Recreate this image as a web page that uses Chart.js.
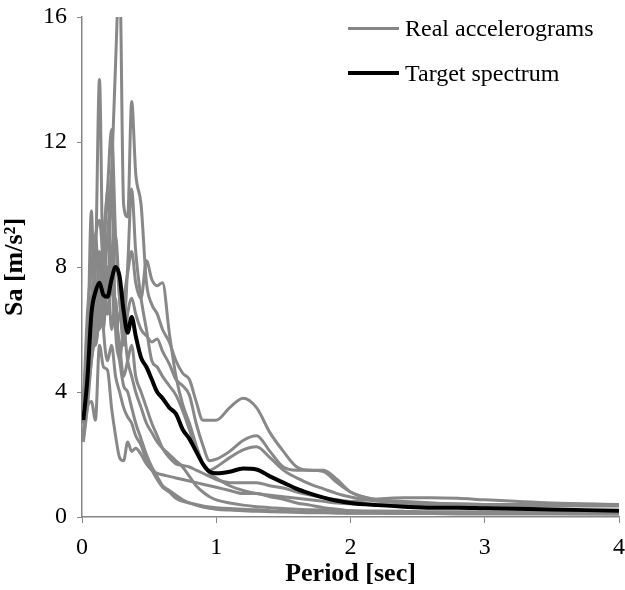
<!DOCTYPE html>
<html>
<head>
<meta charset="utf-8">
<script src="https://cdn.jsdelivr.net/npm/chart.js@4/dist/chart.umd.min.js"></script>
<style>
  html, body { margin: 0; padding: 0; background: #fff; }
  #wrap { position: relative; width: 625px; height: 590px; }
  .legend-item { position: absolute; left: 348px; font-family: "Liberation Serif", "Times New Roman", serif; font-size: 24px; color: #000; line-height: 24px; white-space: nowrap; }
  .legend-item .swatch { display: inline-block; width: 51px; vertical-align: middle; margin-right: 6px; position: relative; top: -2px; }
</style>
</head>
<body>
<div id="wrap">
  <canvas id="chart" width="625" height="590"></canvas>
  <div class="legend-item" style="top:16px"><span class="swatch" style="border-top:3px solid #868686"></span>Real accelerograms</div>
  <div class="legend-item" style="top:61px"><span class="swatch" style="border-top:4px solid #000"></span>Target spectrum</div>
</div>
<script>
// periods [sec] shared by every spectrum
const periods = [0.01, 0.04, 0.07, 0.10, 0.13, 0.16, 0.19, 0.22, 0.25, 0.28, 0.31, 0.34, 0.37, 0.40, 0.44, 0.48,
  0.52, 0.56, 0.60, 0.65, 0.70, 0.75, 0.80, 0.85, 0.90, 0.95, 1.0, 1.1, 1.2, 1.3, 1.4, 1.5, 1.6, 1.7, 1.8, 1.9,
  2.0, 2.2, 2.4, 2.6, 2.8, 3.0, 3.5, 4.0];

// target spectrum Sa [m/s2]
const target = [3.1, 4.4, 6.5, 7.2, 7.5, 7.1, 7.05, 7.6, 8.0, 7.7, 6.6, 5.9, 6.4, 5.8, 5.1, 4.8,
  4.4, 4.0, 3.8, 3.5, 3.3, 2.8, 2.5, 2.1, 1.7, 1.45, 1.4, 1.45, 1.55, 1.52, 1.3, 1.1, 0.9, 0.75, 0.62, 0.52,
  0.45, 0.38, 0.33, 0.3, 0.3, 0.28, 0.24, 0.2];

// real accelerogram spectra Sa [m/s2]
const rec1 = [2.6, 3.8, 5.0, 6.0, 6.5, 7.5, 9.0, 11.0, 14.5, 17.5, 10.0, 9.6, 13.3, 11.0, 10.0, 7.5,
  6.8, 6.5, 6.0, 5.6, 5.0, 4.6, 4.4, 3.7, 3.1, 3.1, 3.1, 3.5, 3.8, 3.5, 2.7, 2.1, 1.6, 1.5, 1.5, 1.2,
  0.8, 0.55, 0.5, 0.45, 0.42, 0.4, 0.38, 0.37];
const rec2 = [3.8, 5.5, 7.0, 8.0, 14.0, 7.0, 6.5, 8.0, 9.0, 7.0, 5.5, 6.5, 7.0, 6.5, 6.0, 5.8,
  5.6, 5.7, 5.3, 4.9, 4.4, 4.2, 3.9, 3.0, 2.3, 1.8, 1.85, 2.1, 2.45, 2.6, 2.1, 1.6, 1.5, 1.5, 1.45, 1.1,
  0.8, 0.55, 0.48, 0.44, 0.42, 0.4, 0.39, 0.38];
const rec3 = [3.2, 4.5, 6.0, 5.5, 7.0, 9.0, 10.5, 12.4, 9.0, 7.0, 6.0, 8.0, 10.5, 8.5, 7.0, 6.0,
  5.0, 4.8, 4.5, 4.2, 3.9, 3.4, 2.8, 2.2, 1.7, 1.5, 1.6, 1.9, 2.15, 2.25, 1.9, 1.5, 1.25, 1.05, 0.9, 0.75,
  0.64, 0.5, 0.45, 0.42, 0.4, 0.4, 0.38, 0.37];
const rec4 = [3.0, 5.0, 9.8, 5.5, 6.5, 8.0, 10.4, 8.0, 6.5, 5.5, 4.5, 5.0, 5.5, 4.5, 4.0, 3.5,
  3.0, 2.6, 2.2, 1.9, 1.7, 1.65, 1.6, 1.5, 1.4, 1.3, 1.2, 1.1, 1.1, 1.1, 1.0, 0.93, 0.8, 0.7, 0.62, 0.55,
  0.5, 0.58, 0.62, 0.62, 0.6, 0.55, 0.45, 0.4];
const rec5 = [2.5, 3.5, 3.7, 3.1, 5.5, 4.8, 4.7, 3.5, 2.6, 1.9, 1.8, 2.4, 2.1, 2.2, 2.0, 1.7,
  1.5, 1.4, 1.35, 1.3, 1.25, 1.2, 1.15, 1.1, 1.05, 1.0, 0.95, 0.85, 0.75, 0.75, 0.65, 0.57, 0.45, 0.38, 0.3, 0.25,
  0.2, 0.15, 0.13, 0.12, 0.12, 0.12, 0.11, 0.1];
const rec6 = [2.4, 3.5, 5.0, 6.0, 8.5, 6.0, 5.0, 5.5, 4.5, 4.0, 3.5, 3.2, 3.0, 2.6, 2.3, 1.8,
  1.5, 1.2, 0.95, 0.8, 0.6, 0.5, 0.45, 0.4, 0.35, 0.32, 0.3, 0.27, 0.25, 0.23, 0.2, 0.18, 0.16, 0.15, 0.14, 0.13,
  0.12, 0.12, 0.11, 0.11, 0.1, 0.1, 0.1, 0.1];
const rec7 = [2.7, 4.0, 6.0, 7.5, 6.0, 9.0, 7.0, 10.9, 6.0, 5.0, 4.2, 4.0, 3.5, 3.0, 2.5, 2.0,
  1.6, 1.3, 1.0, 0.85, 0.7, 0.55, 0.45, 0.38, 0.32, 0.28, 0.25, 0.22, 0.2, 0.18, 0.17, 0.16, 0.15, 0.14, 0.14, 0.13,
  0.13, 0.13, 0.13, 0.13, 0.13, 0.13, 0.13, 0.13];
const rec8 = [3.5, 6.5, 8.0, 9.0, 9.5, 8.0, 6.5, 7.5, 6.0, 6.5, 7.0, 7.8, 8.5, 7.5, 7.0, 8.2,
  7.6, 7.4, 7.5, 5.9, 4.5, 3.6, 3.0, 2.3, 1.7, 1.4, 1.25, 1.0, 0.85, 0.75, 0.7, 0.65, 0.6, 0.55, 0.5, 0.45,
  0.42, 0.4, 0.38, 0.38, 0.37, 0.37, 0.36, 0.35];
const rec9 = [3.0, 4.2, 6.5, 9.0, 7.0, 6.0, 8.0, 6.0, 7.0, 5.0, 6.0, 5.0, 4.5, 4.0, 3.5, 3.0,
  2.7, 2.4, 2.2, 2.0, 1.8, 1.6, 1.3, 1.0, 0.8, 0.65, 0.55, 0.45, 0.38, 0.33, 0.3, 0.27, 0.25, 0.23, 0.22, 0.21,
  0.2, 0.19, 0.18, 0.17, 0.17, 0.16, 0.15, 0.15];

const records = [rec1, rec2, rec3, rec4, rec5, rec6, rec7, rec8, rec9];

const GRAY = "#888888";
const AXIS = "#868686";
const FONT = "'Liberation Serif', 'Times New Roman', serif";

const toPoints = (values) => values.map((v, i) => ({ x: periods[i], y: v }));

document.addEventListener("DOMContentLoaded", () => {
  const datasets = [
    {
      label: "Target spectrum",
      data: toPoints(target),
      borderColor: "#000",
      borderWidth: 4,
    },
    ...records.map((rec, i) => ({
      label: "Real accelerograms " + (i + 1),
      data: toPoints(rec),
      borderColor: GRAY,
      borderWidth: 3,
    })),
  ];

  new Chart(document.getElementById("chart"), {
    type: "line",
    data: { datasets },
    options: {
      responsive: false,
      animation: false,
      layout: { padding: { top: 17, right: 6, left: 0, bottom: 0 } },
      elements: {
        point: { radius: 0 },
        line: { tension: 0.4, cubicInterpolationMode: "monotone", fill: false },
      },
      plugins: {
        legend: { display: false },
        tooltip: { enabled: false },
      },
      scales: {
        x: {
          type: "linear",
          min: 0,
          max: 4,
          ticks: { stepSize: 1, color: "#000", font: { family: FONT, size: 24 }, padding: 10, maxRotation: 0 },
          grid: { drawOnChartArea: false, drawTicks: true, tickLength: 6, color: AXIS },
          border: { color: AXIS, width: 1.5 },
          title: { display: true, text: "Period [sec]", color: "#000", font: { family: FONT, size: 26, weight: "bold" }, padding: 0 },
          afterFit: (scale) => {
            scale.height = 73;
            scale.paddingLeft = 0;
            scale.paddingRight = 0;
          },
        },
        y: {
          min: 0,
          max: 16,
          ticks: { stepSize: 4, color: "#000", font: { family: FONT, size: 24 }, padding: 10 },
          grid: { drawOnChartArea: false, drawTicks: true, tickLength: 5, color: AXIS },
          border: { color: AXIS, width: 1.5 },
          title: { display: true, text: "Sa [m/s²]", color: "#000", font: { family: FONT, size: 26, weight: "bold" }, padding: { top: 0, bottom: 0 } },
          afterFit: (scale) => {
            scale.width = 82;
            scale.paddingTop = 0;
            scale.paddingBottom = 0;
          },
        },
      },
    },
  });
});
</script>
</body>
</html>
